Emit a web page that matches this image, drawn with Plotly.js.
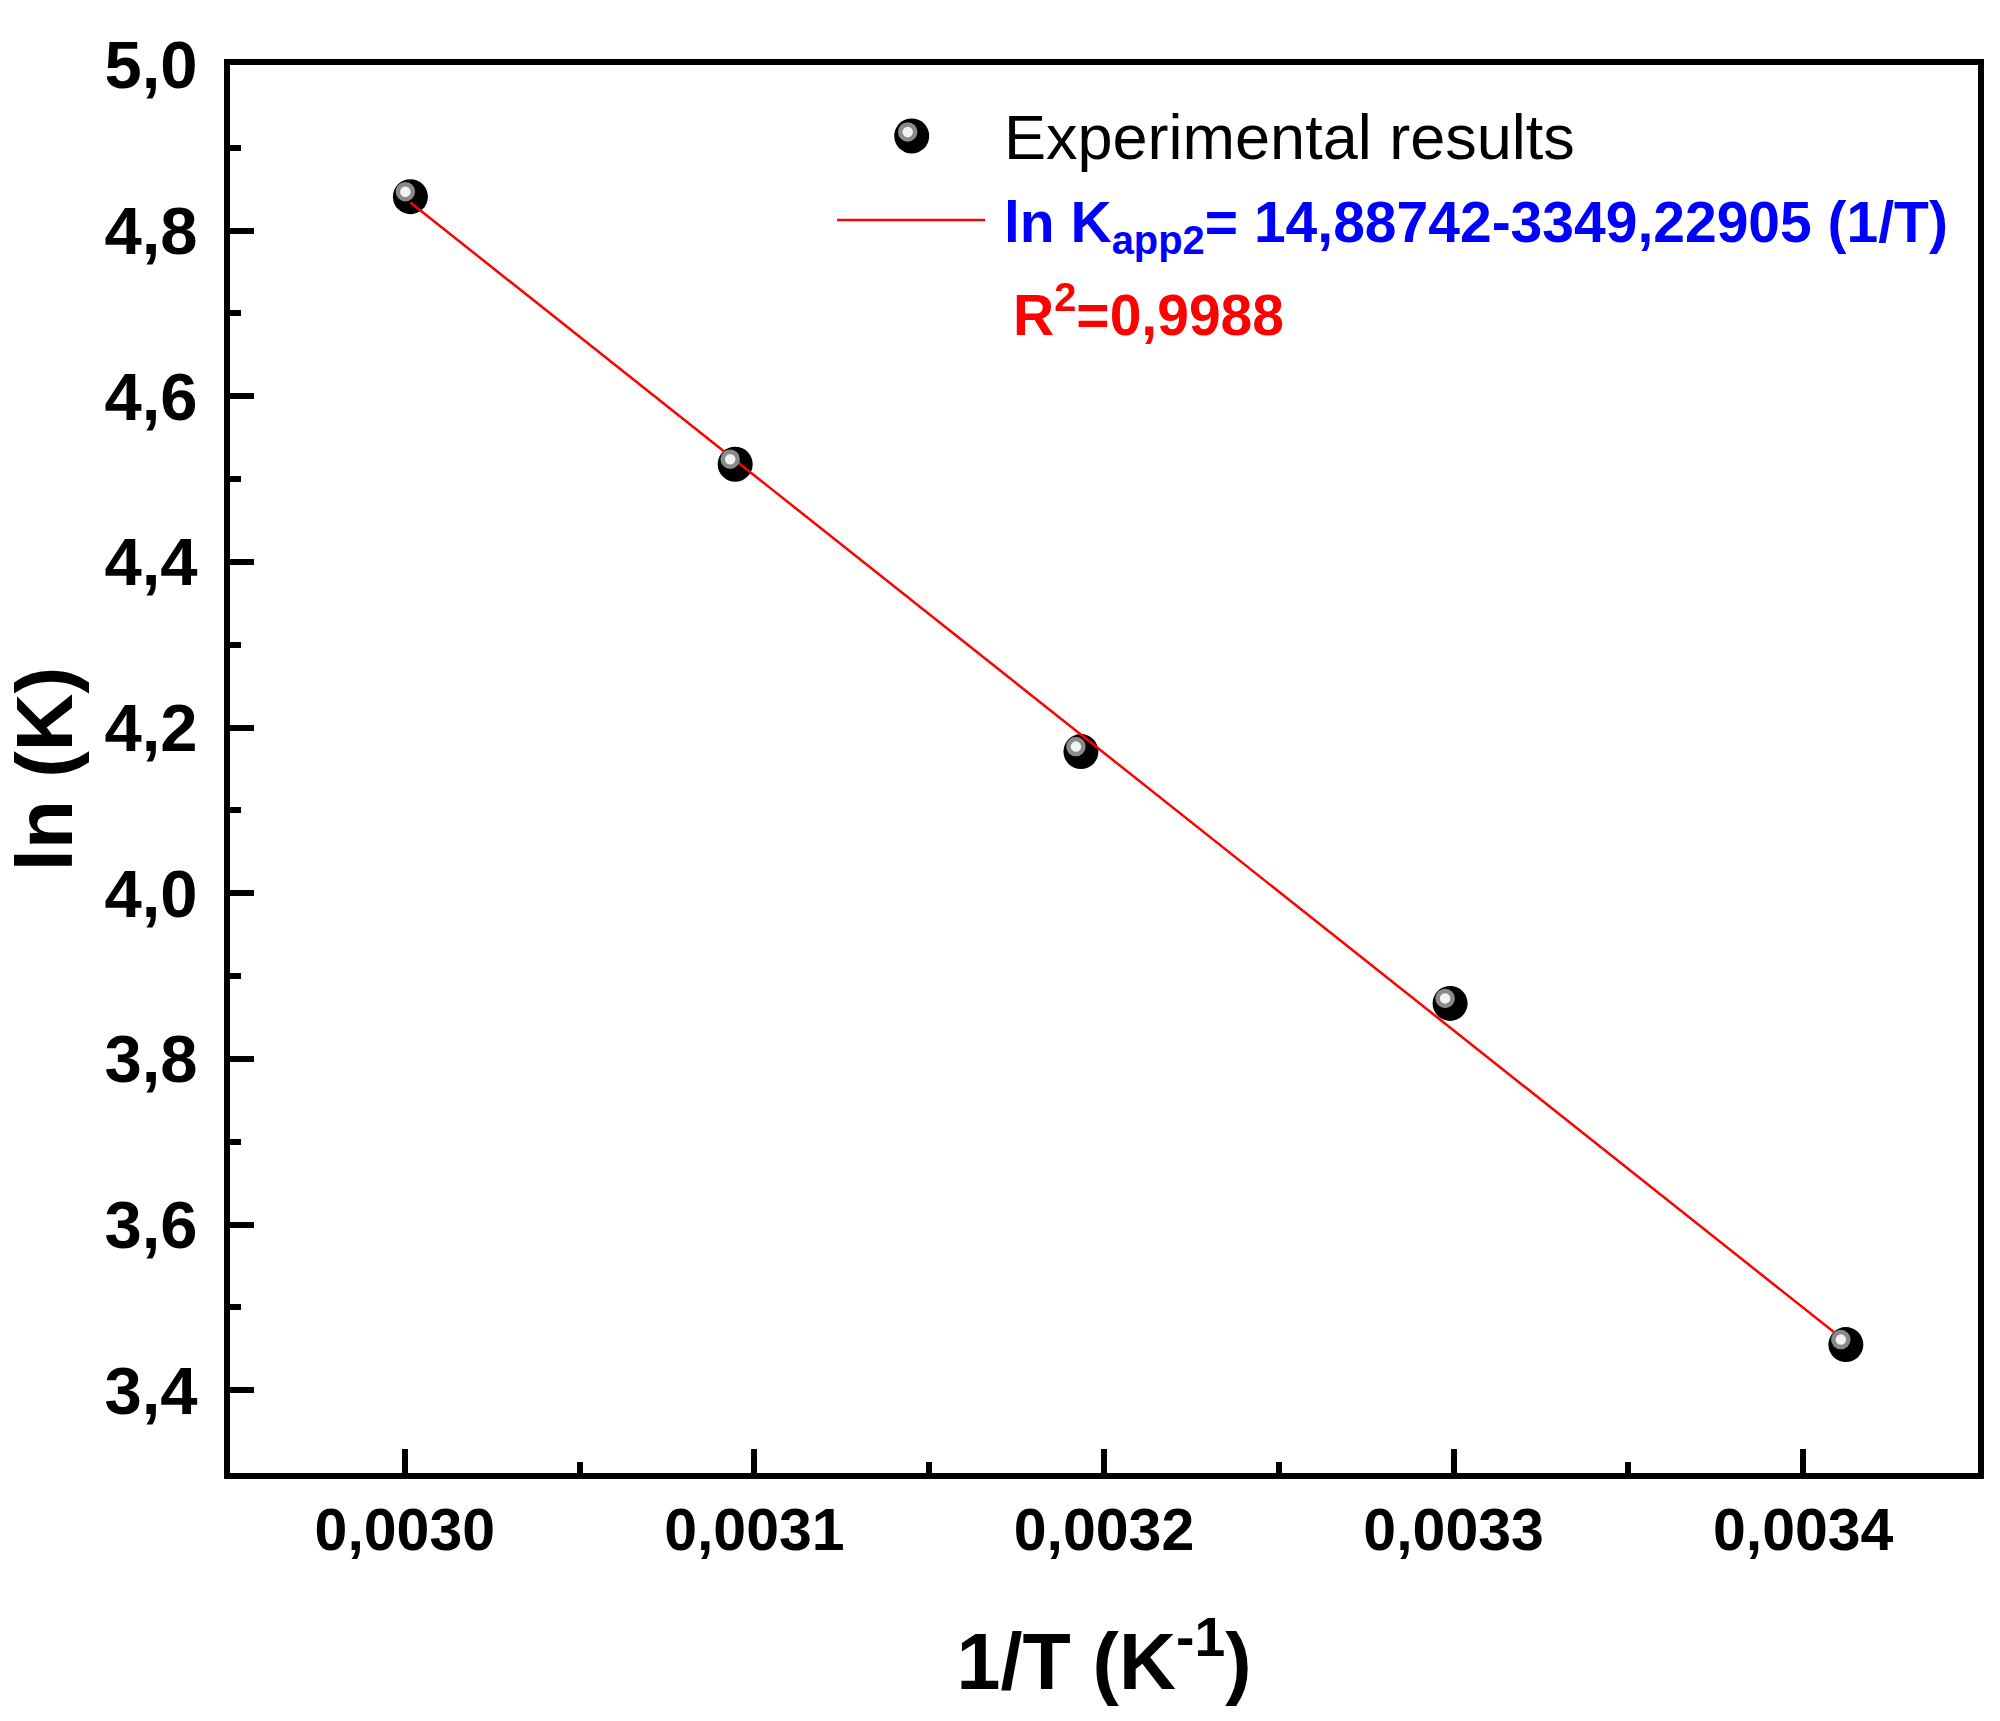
<!DOCTYPE html>
<html>
<head>
<meta charset="utf-8">
<script src="https://cdn.plot.ly/plotly-3.0.1.min.js"></script>
<style>
  html, body { margin: 0; padding: 0; background: #fff; }
  #chart { width: 2000px; height: 1721px; }
</style>
</head>
<body>
<div id="chart"></div>
<script>
// measured points: 1/T (K^-1) vs ln K
var invT = [0.0030016, 0.0030945, 0.0031934, 0.0032990, 0.0034122];
var lnK = [4.841, 4.518, 4.171, 3.867, 3.455];

// fitted line end points
var fitX = [0.0030016, 0.0034112];
var fitY = [4.834, 3.462];

var xRange = [0.00295, 0.00345];
var yRange = [3.3, 5.0];

var legendPoint = "Experimental results";
var legendFit = "ln K<sub>app2</sub>= 14,88742-3349,22905 (1/T)";
var r2Text = "R<sup>2</sup>=0,9988";

var font = "Liberation Sans, Arial, sans-serif";

// highlight dot sits a few pixels up-left of each ball: shift a hidden axis pair
var plotW = 1748, plotH = 1408;
var dx = 5 * (xRange[1] - xRange[0]) / plotW;
var dy = 5 * (yRange[1] - yRange[0]) / plotH;

var data = [
  {
    x: invT, y: lnK,
    type: "scatter", mode: "markers",
    marker: { size: 35, color: "#000000", line: { width: 0 } },
    showlegend: false, hoverinfo: "x+y"
  },
  {
    x: invT, y: lnK,
    xaxis: "x2", yaxis: "y2",
    type: "scatter", mode: "markers",
    marker: { size: 15, color: "#f2f2f2", line: { color: "#8a8a8a", width: 4.5 } },
    showlegend: false, hoverinfo: "skip"
  },
  {
    x: fitX, y: fitY,
    type: "scatter", mode: "lines",
    line: { color: "#ff0000", width: 2.5 },
    showlegend: false
  }
];

var axisCommon = {
  showline: true, linecolor: "#000", linewidth: 6, mirror: true,
  ticks: "inside", ticklen: 24, tickwidth: 6, tickcolor: "#000",
  showgrid: false, zeroline: false
};

var layout = {
  width: 2000, height: 1721,
  margin: { l: 230, r: 22, t: 65, b: 248 },
  paper_bgcolor: "#fff", plot_bgcolor: "#fff",
  separators: ",.",
  font: { family: font, color: "#000" },
  showlegend: false,
  xaxis: Object.assign({}, axisCommon, {
    range: xRange, dtick: 0.0001, tick0: 0, tickformat: ".4f",
    tickfont: { family: font, size: 59, weight: "bold" },
    minor: { dtick: 0.00005, ticks: "inside", ticklen: 11, tickwidth: 6, tickcolor: "#000" },
    title: { text: "<b>1/T (K<sup>-1</sup>)</b>", font: { family: font, size: 79 }, standoff: 74 }
  }),
  yaxis: Object.assign({}, axisCommon, {
    range: yRange, dtick: 0.2, tick0: 0, tickformat: ".1f",
    tickfont: { family: font, size: 67, weight: "bold" },
    ticklabelstandoff: 13,
    minor: { dtick: 0.1, ticks: "inside", ticklen: 11, tickwidth: 6, tickcolor: "#000" },
    title: { text: "<b>ln (K)</b>", font: { family: font, size: 80 }, standoff: 22 }
  }),
  xaxis2: { overlaying: "x", range: [xRange[0] + dx, xRange[1] + dx], visible: false },
  yaxis2: { overlaying: "y", range: [yRange[0] - dy, yRange[1] - dy], visible: false },
  shapes: [
    // legend ball
    { type: "circle", xref: "paper", yref: "paper", xsizemode: "pixel", ysizemode: "pixel",
      xanchor: 0.390, yanchor: 0.9496, x0: -17.5, x1: 17.5, y0: -17.5, y1: 17.5,
      fillcolor: "#000", line: { width: 0 } },
    { type: "circle", xref: "paper", yref: "paper", xsizemode: "pixel", ysizemode: "pixel",
      xanchor: 0.390, yanchor: 0.9496, x0: -11.5, x1: 3.5, y0: -3.5, y1: 11.5,
      fillcolor: "#f2f2f2", line: { color: "#8a8a8a", width: 4.5 } },
    // legend line
    { type: "line", xref: "paper", yref: "paper", x0: 0.3473, x1: 0.432, y0: 0.8899, y1: 0.8899,
      line: { color: "#ff0000", width: 2.5 } }
  ],
  annotations: [
    { xref: "paper", yref: "paper", x: 0.4414, y: 0.9489, xanchor: "left", yanchor: "middle",
      showarrow: false, text: legendPoint, font: { family: font, size: 63, color: "#000" } },
    { xref: "paper", yref: "paper", x: 0.4414, y: 0.8854, xanchor: "left", yanchor: "middle",
      showarrow: false, text: "<b>" + legendFit + "</b>", font: { family: font, size: 57, color: "#0000ff" } },
    { xref: "paper", yref: "paper", x: 0.4466, y: 0.8252, xanchor: "left", yanchor: "middle",
      showarrow: false, text: "<b>" + r2Text + "</b>", font: { family: font, size: 57, color: "#ff0000" } }
  ]
};

Plotly.newPlot("chart", data, layout, { displayModeBar: false, staticPlot: true });
</script>
</body>
</html>
